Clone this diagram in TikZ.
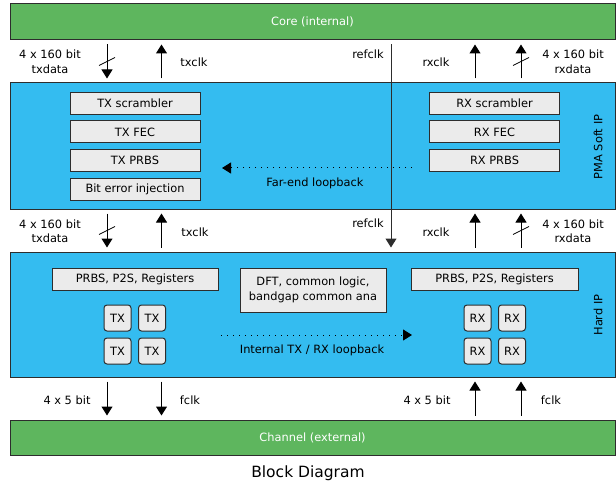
\documentclass[tikz,border=0pt]{standalone}
\usepackage{fontspec}
\setmainfont{DejaVu Sans}
\usetikzlibrary{arrows.meta,calc}
\definecolor{coregreen}{RGB}{94,182,94}
\definecolor{ipblue}{RGB}{52,188,240}
\definecolor{blockgray}{RGB}{235,235,235}
\definecolor{edgegray}{RGB}{45,45,45}
\begin{document}
\begin{tikzpicture}[x=1pt,y=-1pt,
  font=\fontsize{11.4}{14.5}\selectfont,
  layer/.style={draw=edgegray, line width=1pt, minimum width=605pt, minimum height=#1, inner sep=0pt},
  blk/.style={draw=edgegray, line width=1pt, fill=blockgray, minimum width=#1, minimum height=22pt, inner sep=0pt},
  lane/.style={draw=edgegray, line width=1pt, fill=blockgray, rounded corners=3pt, minimum width=27pt, minimum height=26pt, inner sep=0pt},
  sig/.style={line width=1pt, -{Triangle[width=11pt,length=9pt]}, shorten <=4pt, shorten >=4pt},
  loop/.style={line width=1pt, dash pattern=on 1pt off 5pt, -{Triangle[width=11pt,length=9pt]}},
  lbl/.style={align=center, inner sep=0pt}]
\useasboundingbox (0,0) rectangle (616,484);

\node[layer=36pt, fill=coregreen, text=white] (core) at (312.5,22) {Core (internal)};
\node[layer=126pt, fill=ipblue] (pma) at (312.5,146) {};
\node[layer=125pt, fill=ipblue] (hard) at (312.5,314.5) {};
\node[layer=35pt, fill=coregreen, text=white] (channel) at (312.5,437.5) {Channel (external)};
\node[rotate=90] (pmalbl) at (598,147) {PMA Soft IP};
\node[rotate=90] (hardlbl) at (598,315) {Hard IP};

% soft IP blocks
\node[blk=130pt] (txscr) at (135,103.5) {TX scrambler};
\node[blk=130pt] (txfec) at (135,132) {TX FEC};
\node[blk=130pt] (txprbs) at (135,160.5) {TX PRBS};
\node[blk=130pt] (biterr) at (135,189.5) {Bit error injection};
\node[blk=130pt] (rxscr) at (494.5,103.5) {RX scrambler};
\node[blk=130pt] (rxfec) at (494.5,132) {RX FEC};
\node[blk=130pt] (rxprbs) at (494.5,160.5) {RX PRBS};

% hard IP blocks
\node[blk=166pt] (txregs) at (135,279) {PRBS, P2S, Registers};
\node[blk=167pt] (rxregs) at (494.5,279) {PRBS, P2S, Registers};
\node[blk=146pt, minimum height=44pt, align=center] (dft) at (313,290) {DFT, common logic,\\bandgap common ana};
\foreach \c/\x in {a/117.5, b/152} {
  \foreach \r/\y in {1/318, 2/351} {
    \node[lane] (tx\c\r) at (\x,\y) {TX};
  }
}
\foreach \c/\x in {a/477.5, b/512} {
  \foreach \r/\y in {1/318, 2/351} {
    \node[lane] (rx\c\r) at (\x,\y) {RX};
  }
}

% loopbacks
\coordinate (fe-from) at (412,168);
\coordinate (fe-to) at (222,168);
\draw[loop] (fe-from) -- (fe-to);
\node[lbl] (felbl) at (315,183) {Far-end loopback};
\coordinate (il-from) at (221,335);
\coordinate (il-to) at (412,335);
\draw[loop] (il-from) -- (il-to);
\node[lbl] (illbl) at (312,350) {Internal TX / RX loopback};

% signal columns
\coordinate (txd) at (107,0);
\coordinate (txc) at (161.5,0);
\coordinate (ref) at (391,0);
\coordinate (rxc) at (475,0);
\coordinate (rxd) at (521,0);

\draw[sig] (txd |- core.south) -- (txd |- pma.north);
\draw[sig] (txc |- pma.north) -- (txc |- core.south);
\draw[sig] (rxc |- pma.north) -- (rxc |- core.south);
\draw[sig] (rxd |- pma.north) -- (rxd |- core.south);
\draw[sig] (txd |- pma.south) -- (txd |- hard.north);
\draw[sig] (txc |- hard.north) -- (txc |- pma.south);
\draw[sig] (rxc |- hard.north) -- (rxc |- pma.south);
\draw[sig] (rxd |- hard.north) -- (rxd |- pma.south);
\draw[sig, draw=edgegray] (ref |- core.south) -- (ref |- hard.north);
\draw[sig] (txd |- hard.south) -- (txd |- channel.north);
\draw[sig] (txc |- hard.south) -- (txc |- channel.north);
\draw[sig] (rxc |- channel.north) -- (rxc |- hard.south);
\draw[sig] (rxd |- channel.north) -- (rxd |- hard.south);

% bus slashes
\foreach \col in {txd, rxd} {
  \draw[line width=0.8pt] ($(\col |- core.south)!0.5!(\col |- pma.north)$) +(-8,4) -- +(8,-4);
  \draw[line width=0.8pt] ($(\col |- pma.south)!0.5!(\col |- hard.north)$) +(-8,4) -- +(8,-4);
}

\node[lbl] (txdlbl1) at (50,62) {4 x 160 bit\\txdata};
\node[lbl] (txclbl1) at (194,62) {txclk};
\node[lbl] (reflbl1) at (368,54) {refclk};
\node[lbl] (rxclbl1) at (436,62) {rxclk};
\node[lbl] (rxdlbl1) at (573,62) {4 x 160 bit\\rxdata};
\node[lbl] (txdlbl2) at (50,231) {4 x 160 bit\\txdata};
\node[lbl] (txclbl2) at (195,232) {txclk};
\node[lbl] (reflbl2) at (368,223) {refclk};
\node[lbl] (rxclbl2) at (436,232) {rxclk};
\node[lbl] (rxdlbl2) at (573,231) {4 x 160 bit\\rxdata};
\node[lbl] (txdlbl3) at (67,400) {4 x 5 bit};
\node[lbl] (txclbl3) at (190,400) {fclk};
\node[lbl] (rxdlbl3) at (427,400) {4 x 5 bit};
\node[lbl] (rxclbl3) at (551,400) {fclk};

\node[font=\fontsize{15.5}{18}\selectfont] (title) at (308,473) {Block Diagram};
\end{tikzpicture}
\end{document}
